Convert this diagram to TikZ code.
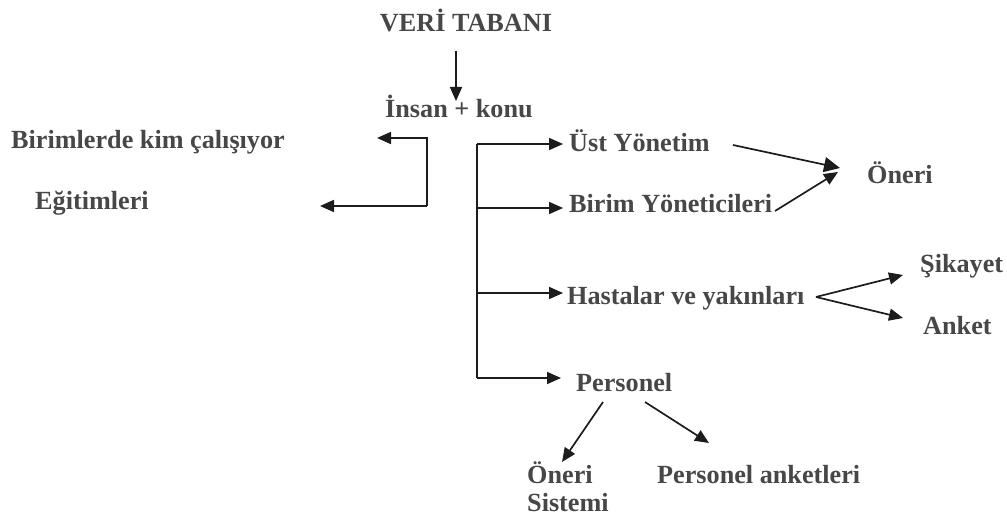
\documentclass[tikz,border=0pt]{standalone}
\usepackage{fontspec}
\setmainfont{Liberation Serif}
\usetikzlibrary{arrows.meta}
\definecolor{txt}{HTML}{474747}
\definecolor{ln}{HTML}{1C1C1C}
\begin{document}
\begin{tikzpicture}[x=1pt,y=-1pt,
  lbl/.style={font=\fontsize{26.2}{30}\selectfont\bfseries, text=txt, inner sep=0pt, anchor=base west},
  conn/.style={draw=ln, line width=1.7pt, -{Triangle[length=14pt,width=12pt]}},
  bigconn/.style={draw=ln, line width=1.7pt, -{Triangle[length=16pt,width=15pt]}},
  plain/.style={draw=ln, line width=1.7pt}]
\useasboundingbox (0,0) rectangle (1007,516);

% labels
\node[lbl, anchor=base] (db) at (466,31.5) {VERİ TABANI};
\node[lbl] (ik) at (385,118) {İnsan + konu};
\node[lbl] (bk) at (11,149) {Birimlerde kim çalışıyor};
\node[lbl] (eg) at (35,209) {Eğitimleri};
\node[lbl] (uy) at (569,152) {Üst Yönetim};
\node[lbl] (by) at (569,212) {Birim Yöneticileri};
\node[lbl] (hy) at (567,304) {Hastalar ve yakınları};
\node[lbl] (ps) at (576,391) {Personel};
\node[lbl] (on) at (867,183) {Öneri};
\node[lbl] (sk) at (920,272) {Şikayet};
\node[lbl] (an) at (923,334) {Anket};
\node[lbl] (os) at (527,483) {Öneri};
\node[lbl] (os2) at (527,511) {Sistemi};
\node[lbl] (pa) at (657,483) {Personel anketleri};

% junction points and arrow ends
\coordinate (dbS) at (456,51);
\coordinate (ikN) at (456,101);
\coordinate (lt) at (427,138);
\coordinate (lb) at (427,206);
\coordinate (bkE) at (377,138);
\coordinate (egE) at (320,206);
\coordinate (r1) at (477,144);
\coordinate (r2) at (477,208);
\coordinate (r3) at (477,293);
\coordinate (r4) at (477,378);
\coordinate (uyW) at (563,144);
\coordinate (byW) at (563,208);
\coordinate (hyW) at (563,293);
\coordinate (psW) at (561,378);
\coordinate (uyE) at (733,145);
\coordinate (byE) at (775,211);
\coordinate (onW1) at (840,168);
\coordinate (onW2) at (838,172);
\coordinate (hyE) at (816,297);
\coordinate (skW) at (903,275);
\coordinate (anW) at (903,318);
\coordinate (psS1) at (603,402);
\coordinate (psS2) at (645,402);
\coordinate (osN) at (562,462);
\coordinate (paN) at (709,443);

% connectors
\draw[conn] (dbS) -- (ikN);
\draw[conn] (lb) -- (lt) -- (bkE);
\draw[conn] (lb) -- (egE);
\draw[plain] (r1) -- (r4);
\draw[conn] (r1) -- (uyW);
\draw[conn] (r2) -- (byW);
\draw[conn] (r3) -- (hyW);
\draw[conn] (r4) -- (psW);
\draw[bigconn] (uyE) -- (onW1);
\draw[conn] (byE) -- (onW2);
\draw[conn] (hyE) -- (skW);
\draw[conn] (hyE) -- (anW);
\draw[conn] (psS1) -- (osN);
\draw[conn] (psS2) -- (paN);
\end{tikzpicture}
\end{document}
